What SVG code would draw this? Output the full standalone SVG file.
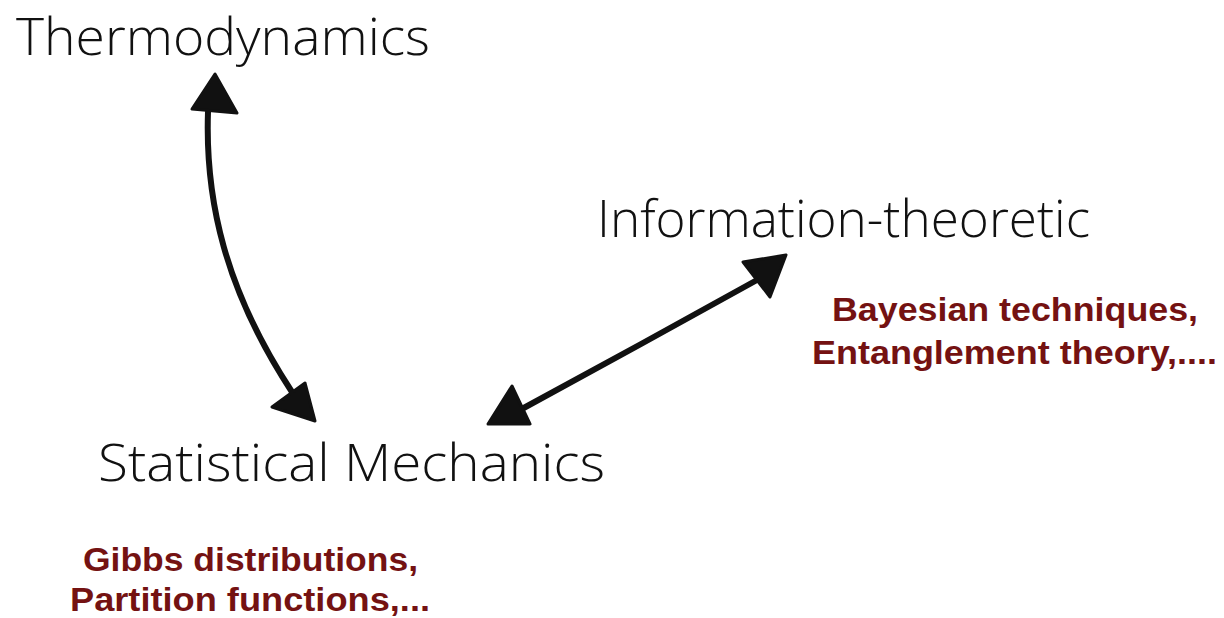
<svg xmlns="http://www.w3.org/2000/svg" width="1224" height="618" viewBox="0 0 1224 618">
  <style>
    .title { font-family: "Open Sans", "Liberation Sans", sans-serif; font-weight: 300; font-size: 52px; fill: #111; }
    .note { font-family: "Liberation Sans", Arial, sans-serif; font-weight: bold; font-size: 33px; fill: #741212; }
    .line { fill: none; stroke: #111; stroke-width: 6; stroke-linecap: round; }
    .head { fill: #111; stroke: #111; stroke-width: 3; stroke-linejoin: round; }
  </style>
  <rect width="1224" height="618" fill="#fff"/>

  <g id="thermodynamics">
    <text class="title" x="16" y="55" font-size="50" textLength="414" lengthAdjust="spacingAndGlyphs">Thermodynamics</text>
  </g>

  <g id="information-theoretic">
    <text class="title" x="597" y="237" textLength="493" lengthAdjust="spacingAndGlyphs">Information-theoretic</text>
    <text class="note" x="832" y="321" textLength="366" lengthAdjust="spacingAndGlyphs">Bayesian techniques,</text>
    <text class="note" x="812" y="364" textLength="405" lengthAdjust="spacingAndGlyphs">Entanglement theory,....</text>
  </g>

  <g id="statistical-mechanics">
    <text class="title" x="98" y="481" textLength="507" lengthAdjust="spacingAndGlyphs">Statistical Mechanics</text>
    <text class="note" x="83" y="571" textLength="335" lengthAdjust="spacingAndGlyphs">Gibbs distributions,</text>
    <text class="note" x="70" y="611" textLength="360" lengthAdjust="spacingAndGlyphs">Partition functions,...</text>
  </g>

  <g id="connectors">
    <!-- Thermodynamics <-> Statistical Mechanics -->
    <path class="line" d="M208,112 C205,200 225,290 292,392"/>
    <polygon class="head" points="215,74 192,109 237,113"/>
    <polygon class="head" points="315,421 272,407 305,383"/>
    <!-- Information-theoretic <-> Statistical Mechanics -->
    <path class="line" d="M757,280 Q640,345 520,410"/>
    <polygon class="head" points="786,255 743,262 770,297"/>
    <polygon class="head" points="488,424 512,386 530,424"/>
  </g>
</svg>
